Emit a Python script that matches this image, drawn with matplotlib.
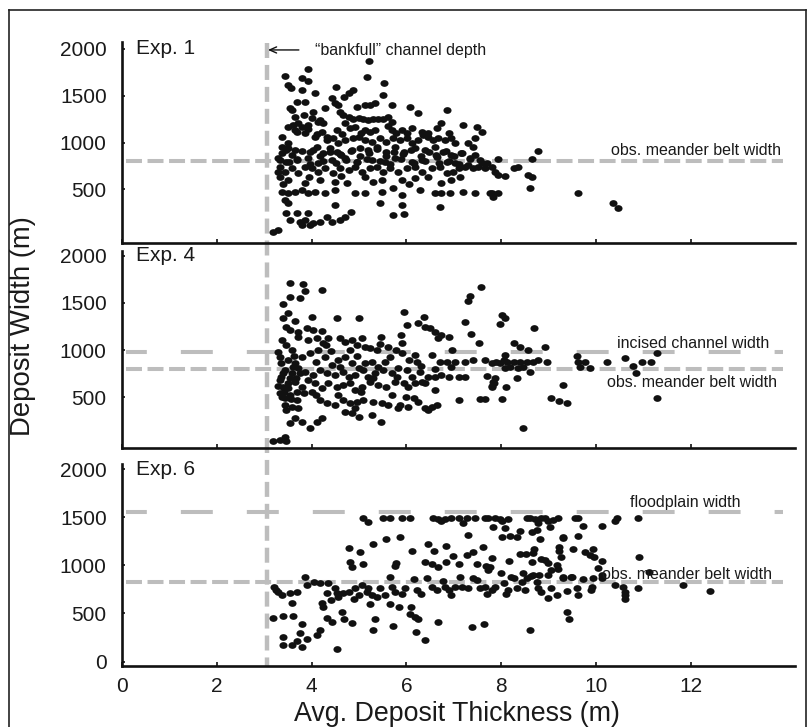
import matplotlib
matplotlib.use("Agg")
import matplotlib.pyplot as plt
import numpy as np
from matplotlib.path import Path
from matplotlib.transforms import Affine2D, blended_transform_factory
from matplotlib.lines import Line2D

plt.rcParams['font.family'] = ['Liberation Sans', 'DejaVu Sans']
plt.rcParams['lines.scale_dashes'] = False

# ---------------- data: (avg. deposit thickness m, deposit width m) ----------------
exp1_points = [
    (5.22, 1874), (5.16, 1703), (3.43, 1713), (3.79, 1692), (3.92, 1660), (3.93, 1781),
    (3.51, 1614), (3.57, 1578), (4.52, 1596), (5.53, 1639), (3.79, 1561), (4.07, 1525),
    (4.88, 1561), (4.78, 1525), (4.69, 1489), (5.51, 1507), (4.42, 1472), (4.49, 1418),
    (4.56, 1401), (3.69, 1436), (3.86, 1436), (3.58, 1347), (3.55, 1365), (4.28, 1365),
    (4.04, 1329), (4.95, 1383), (5.13, 1401), (5.23, 1401), (5.34, 1418), (5.69, 1401),
    (6.08, 1383), (6.25, 1319), (6.85, 1347),
    (4.60, 1329), (4.67, 1294), (4.78, 1269), (4.88, 1248), (4.99, 1258), (5.09, 1248),
    (5.20, 1241), (5.30, 1248), (5.41, 1255), (5.51, 1248), (5.62, 1269), (5.69, 1223),
    (3.65, 1276), (3.83, 1294), (4.00, 1258), (4.18, 1241),
    (3.61, 1187), (3.79, 1169), (3.93, 1187), (4.14, 1223), (4.25, 1205),
    (4.70, 1205), (4.81, 1152),
    (6.11, 1152), (6.64, 1152), (6.74, 1205), (7.20, 1187), (7.48, 1169), (7.59, 1116),
    (3.37, 1063), (3.51, 992), (3.47, 920), (3.69, 1116), (3.86, 1098), (4.07, 1063), (4.21, 1116),
    (5.13, 1134), (5.34, 1134), (5.69, 1134), (5.79, 1098),
    (3.51, 1169), (3.64, 1134), (3.72, 1205), (3.93, 1141), (4.11, 1091), (4.32, 1063),
    (4.53, 1134), (4.65, 1091), (4.92, 1162), (5.04, 1105), (5.23, 1116), (5.61, 1177),
    (5.90, 1134), (6.01, 1098), (6.32, 1116), (6.46, 1098), (6.89, 1098), (7.31, 992),
    (4.32, 1027), (4.46, 1045), (4.56, 992), (4.70, 1027), (4.88, 1045), (4.99, 1063),
    (5.13, 1027), (5.27, 1009), (5.44, 1045), (5.58, 1009), (5.72, 1045), (5.86, 1027),
    (6.01, 1045), (6.11, 992), (6.25, 1027), (6.36, 1081), (6.46, 1063), (6.57, 1027),
    (6.67, 1045), (6.81, 1027), (6.95, 1045), (7.03, 992), (7.45, 1045), (7.41, 956),
    (3.37, 956), (3.51, 938), (3.65, 920), (3.97, 903), (4.11, 956), (4.25, 885),
    (4.39, 938), (4.53, 903), (4.63, 867), (4.85, 920), (5.02, 938), (5.20, 920),
    (5.37, 956), (5.58, 903), (5.76, 956), (5.94, 903), (6.18, 938), (6.39, 920),
    (6.60, 956), (6.78, 903), (6.95, 867), (7.17, 885), (7.34, 832), (7.45, 867),
    (3.37, 885), (3.58, 870), (3.79, 905), (4.02, 918), (4.18, 862), (4.39, 900),
    (4.60, 878), (4.83, 915), (5.02, 852), (5.21, 893), (5.38, 930), (5.56, 862),
    (5.74, 898), (5.93, 873), (6.09, 921), (6.30, 858), (6.48, 902), (6.62, 871),
    (6.83, 915), (7.00, 862), (7.16, 884), (7.35, 830), (7.55, 812), (7.70, 780),
    (3.30, 832), (3.47, 796), (3.69, 814), (3.93, 832), (4.14, 778), (4.42, 814),
    (4.70, 832), (4.95, 796), (5.27, 814), (5.55, 796), (5.76, 832), (6.11, 796),
    (6.32, 814), (6.64, 849), (6.85, 796), (7.03, 778), (7.31, 760), (7.59, 778),
    (3.33, 812), (3.52, 790), (3.70, 826), (3.97, 775), (4.25, 808), (4.52, 780),
    (4.73, 818), (4.95, 792), (5.17, 822), (5.45, 800), (5.66, 770), (5.88, 820),
    (6.15, 785), (6.40, 808), (6.69, 778), (6.90, 800), (7.12, 770),
    (3.33, 743), (3.30, 689), (3.44, 689), (3.58, 725), (3.72, 672), (3.86, 743),
    (4.00, 725), (4.14, 689), (4.28, 725), (4.46, 672), (4.60, 725), (4.78, 707),
    (4.92, 743), (5.06, 689), (5.23, 725), (5.37, 743), (5.51, 689), (5.65, 725),
    (5.83, 689), (6.01, 725), (6.18, 743), (6.32, 689), (6.53, 725), (6.71, 743),
    (6.85, 672), (6.99, 689), (7.10, 725), (7.24, 743), (7.41, 725), (7.52, 743),
    (7.66, 725), (7.80, 743),
    (3.33, 636), (3.51, 601), (3.86, 565), (4.18, 601), (4.49, 583), (4.74, 565),
    (5.13, 636), (5.48, 601), (5.90, 601), (6.18, 618), (6.46, 636), (6.74, 565), (7.13, 636),
    (3.40, 560), (3.95, 630), (4.62, 640), (5.30, 575), (6.05, 560), (6.95, 600),
    (3.37, 476), (3.51, 458), (3.65, 476), (3.79, 494), (3.93, 458), (4.07, 476),
    (4.28, 458), (4.49, 494), (4.92, 458), (5.13, 458), (5.48, 476), (5.72, 512),
    (5.90, 441), (6.29, 494), (6.60, 458), (6.74, 458), (6.92, 465), (7.20, 476),
    (7.45, 458), (7.76, 458),
    (3.44, 387), (3.51, 352), (4.49, 334), (5.44, 352), (5.90, 334), (6.71, 316),
    (3.47, 245), (3.69, 245), (3.93, 245), (4.32, 209), (4.70, 209), (4.84, 263),
    (5.72, 227), (5.94, 238),
    (3.54, 174), (3.76, 156), (3.86, 174), (4.04, 138), (4.18, 156), (4.42, 156),
    (4.60, 174), (3.79, 120), (3.97, 120), (3.19, 49), (3.30, 67),
    (7.94, 821), (8.78, 910), (8.66, 821), (8.26, 725), (8.36, 743), (7.87, 689),
    (7.94, 654), (8.08, 643), (8.57, 654), (8.64, 629), (8.61, 512), (7.80, 458),
    (7.83, 423), (7.94, 458), (9.63, 458), (10.35, 352), (10.46, 305),
]

exp4_points = [
    (3.54, 1706), (3.81, 1696), (3.86, 1629), (3.76, 1548), (3.54, 1565), (4.21, 1636),
    (3.40, 1488), (7.57, 1664), (7.34, 1572), (7.31, 1523),
    (3.51, 1389), (3.40, 1343), (3.65, 1311), (3.47, 1248), (3.54, 1213), (3.72, 1195),
    (4.00, 1354), (3.90, 1230), (4.04, 1213), (4.21, 1205), (4.53, 1336), (5.00, 1343),
    (5.95, 1407), (6.38, 1354), (6.24, 1283), (6.39, 1248), (6.50, 1230), (6.60, 1195),
    (6.72, 1160), (6.66, 1124), (6.89, 1142), (7.24, 1301), (7.36, 1167), (7.53, 1079),
    (6.96, 1001), (6.53, 948), (6.01, 1265), (5.88, 1160), (5.90, 1079), (5.46, 1135),
    (3.37, 1107), (3.47, 1054), (3.58, 1001), (3.72, 1142), (3.93, 1107), (4.11, 1124),
    (4.25, 1071), (4.35, 1124), (4.60, 1124), (4.70, 1089), (4.85, 1107), (4.95, 1054),
    (5.06, 1124), (5.13, 1036), (5.23, 1019), (5.37, 1001), (5.62, 1029), (5.79, 1001),
    (5.90, 966), (5.65, 930), (6.18, 948), (6.22, 877), (6.71, 877), (6.85, 877),
    (7.03, 877), (7.24, 877), (7.41, 895), (7.66, 895), (7.80, 860), (7.69, 726),
    (7.85, 655), (7.80, 620),
    (3.33, 930), (3.51, 895), (3.65, 860), (3.79, 930), (3.97, 966), (4.14, 1001),
    (4.28, 930), (4.42, 842), (4.56, 895), (4.70, 930), (4.85, 860), (4.99, 807),
    (5.13, 860), (5.27, 877), (5.41, 825), (3.44, 789), (3.58, 754), (3.72, 807),
    (3.86, 772), (4.04, 736), (4.18, 789), (4.32, 754), (4.49, 736), (4.67, 772),
    (4.78, 719), (4.92, 736), (5.09, 789), (5.20, 719), (5.34, 754), (5.51, 789),
    (5.69, 754), (5.83, 807), (6.01, 789), (6.11, 719), (6.29, 772), (6.46, 719),
    (6.60, 719), (6.74, 736), (6.89, 719), (7.10, 719), (7.24, 719),
    (3.30, 980), (3.36, 860), (3.40, 760), (3.35, 720), (3.42, 560), (3.50, 600),
    (3.55, 700), (3.60, 820), (3.62, 940), (3.68, 700), (3.70, 560), (3.75, 760),
    (3.56, 480), (3.30, 620), (3.38, 500), (4.10, 870), (4.40, 990), (4.60, 820),
    (4.95, 940), (5.30, 700), (5.55, 870), (5.80, 720), (6.05, 900), (6.30, 830),
    (6.60, 800), (6.95, 820), (5.05, 560), (4.55, 520), (4.10, 520), (5.70, 520),
    (6.00, 500), (4.30, 1050), (4.80, 1000), (5.45, 1060),
    (3.33, 683), (3.40, 613), (3.51, 648), (3.65, 666), (3.79, 613), (3.93, 683),
    (4.07, 648), (4.21, 595), (4.35, 648), (4.53, 613), (4.67, 631), (4.81, 648),
    (4.92, 578), (5.06, 613), (5.23, 666), (5.41, 631), (5.58, 613), (5.76, 666),
    (5.94, 648), (6.04, 613), (6.18, 648), (6.32, 666), (6.39, 648),
    (3.33, 542), (3.44, 490), (3.54, 525), (3.69, 472), (3.83, 542), (4.00, 560),
    (4.18, 472), (4.32, 437), (4.49, 419), (4.67, 472), (4.81, 437), (4.95, 454),
    (5.09, 472), (5.30, 454), (5.48, 437), (5.62, 419), (3.44, 419), (3.47, 366),
    (3.58, 401), (3.72, 384), (4.70, 348), (4.85, 331), (4.99, 296), (5.27, 313),
    (5.46, 243), (4.92, 384), (6.04, 401), (6.15, 490), (6.25, 454), (6.39, 384),
    (6.53, 401), (6.64, 419), (6.46, 366), (5.83, 384), (5.86, 419), (7.10, 472),
    (7.66, 479), (7.55, 479), (6.60, 578),
    (3.54, 225), (3.79, 243), (3.97, 172), (4.11, 243), (4.21, 278), (3.65, 278),
    (3.19, 38), (3.33, 49), (3.47, 42), (3.44, 77),
    (8.01, 1371), (8.08, 1336), (7.97, 1276), (8.70, 1230), (8.26, 1079), (8.40, 1036),
    (8.57, 1001), (8.92, 1036), (8.08, 948), (8.05, 895), (7.90, 877), (7.97, 860),
    (8.12, 877), (8.26, 877), (8.40, 877), (8.54, 877), (8.68, 877), (8.78, 895),
    (8.96, 877), (9.59, 937), (9.63, 877), (9.77, 877), (10.24, 877), (10.61, 913),
    (10.96, 877), (11.17, 870), (11.29, 973), (10.79, 832), (10.84, 761), (8.08, 807),
    (8.19, 817), (8.36, 807), (8.47, 825), (8.61, 772), (9.66, 817), (9.87, 814),
    (8.33, 701), (7.87, 701), (7.83, 666), (7.80, 613), (8.10, 606), (9.31, 634),
    (8.01, 479), (9.06, 490), (9.21, 465), (9.38, 437), (11.29, 490), (8.45, 172),
]

exp6_points = [
    (5.09, 1495), (5.20, 1454), (5.51, 1495), (5.65, 1495), (5.90, 1495), (6.08, 1495),
    (6.57, 1495), (6.66, 1481), (6.74, 1464), (6.81, 1478), (6.95, 1495), (7.10, 1495),
    (7.20, 1436), (7.27, 1495), (7.45, 1495), (7.66, 1495), (7.73, 1495), (7.87, 1495),
    (7.97, 1478), (8.01, 1464), (8.15, 1481), (8.54, 1495), (8.61, 1495), (8.71, 1481),
    (8.78, 1436), (8.85, 1495), (8.92, 1495), (8.99, 1461), (9.10, 1471), (9.20, 1495),
    (9.56, 1495), (9.63, 1495), (10.40, 1461), (10.44, 1488), (10.89, 1495),
    (7.31, 1315), (7.83, 1402), (8.01, 1291), (8.07, 1385), (8.19, 1305), (8.33, 1291),
    (8.40, 1360), (8.64, 1350), (8.75, 1367), (8.82, 1274), (9.03, 1402), (9.31, 1291),
    (9.63, 1305), (9.73, 1409), (10.12, 1412),
    (4.78, 1177), (5.02, 1135), (5.30, 1222), (5.58, 1274), (5.86, 1291), (6.11, 1149),
    (6.45, 1218), (6.59, 1149), (6.83, 1205), (6.98, 1097), (7.27, 1108), (7.41, 1142),
    (7.62, 1187), (7.81, 1080), (8.16, 1049), (8.40, 1115), (8.52, 1115), (8.70, 1166),
    (8.68, 1132), (8.64, 1031), (8.84, 1063), (9.22, 1187), (9.22, 1153), (9.26, 1083),
    (9.52, 1170), (9.77, 1135), (9.87, 1108), (9.94, 1166), (9.96, 1090), (10.12, 1049),
    (10.91, 1090), (9.31, 1281),
    (4.81, 1038), (4.85, 980), (5.09, 1011), (5.79, 1021), (5.76, 993), (6.39, 1038),
    (6.53, 1014), (6.67, 980), (6.83, 1038), (7.10, 1011), (7.48, 1011), (7.67, 993),
    (7.76, 980), (7.73, 952), (7.99, 924), (8.21, 876), (8.45, 917), (8.63, 890),
    (8.80, 900), (8.92, 1056), (8.99, 1021), (9.06, 952), (9.17, 1004), (9.20, 959),
    (8.99, 900), (9.31, 883), (9.49, 876), (10.05, 969), (10.13, 865), (11.12, 935),
    (9.94, 865),
    (3.21, 772), (3.24, 744), (3.30, 727), (3.37, 692), (3.54, 710), (3.69, 727),
    (3.86, 876), (3.90, 796), (4.06, 831), (4.18, 820), (4.34, 813), (4.32, 710),
    (4.49, 762), (4.53, 710), (4.56, 675), (4.67, 710), (4.78, 727), (4.92, 762),
    (4.99, 692), (5.06, 796), (5.16, 727), (5.27, 692), (5.37, 675), (5.44, 762),
    (5.55, 692), (5.65, 883), (5.69, 779), (5.76, 727), (5.97, 762), (6.15, 855),
    (6.22, 744), (6.43, 865), (6.53, 779), (6.64, 744), (6.78, 841), (6.81, 779),
    (6.89, 744), (7.03, 779), (7.13, 876), (7.17, 779), (7.31, 762), (7.41, 865),
    (7.48, 848), (7.55, 762), (7.66, 779), (7.80, 744), (7.87, 779), (8.05, 813),
    (8.15, 744), (8.26, 865), (8.33, 762), (8.43, 831), (8.54, 865), (8.68, 900),
    (8.75, 831), (8.78, 762), (8.84, 727), (8.99, 658), (9.17, 692), (9.31, 865),
    (9.38, 737), (9.47, 876), (9.63, 692), (9.73, 855), (9.89, 744), (9.91, 779),
    (10.12, 900), (10.40, 796), (10.58, 779), (10.61, 727), (10.89, 762), (11.84, 796),
    (12.40, 737),
    (4.40, 640), (4.90, 655), (5.20, 760), (5.90, 700), (6.30, 705), (6.95, 690),
    (7.70, 705), (8.10, 700), (8.50, 740), (9.05, 765), (9.60, 760),
    (3.19, 450), (3.40, 474), (3.59, 606), (3.60, 474), (3.79, 388), (3.76, 294),
    (3.40, 260), (3.40, 173), (3.58, 173), (3.79, 156), (3.69, 218), (3.90, 235),
    (4.11, 277), (4.18, 329), (4.21, 606), (4.25, 571), (4.32, 450), (4.42, 415),
    (4.53, 132), (4.65, 519), (4.69, 440), (4.85, 398), (5.23, 599), (5.30, 329),
    (5.34, 440), (5.65, 599), (5.72, 370), (5.85, 564), (6.10, 571), (6.08, 495),
    (6.18, 467), (6.20, 312), (6.25, 440), (6.39, 225), (6.66, 415), (7.38, 357),
    (7.64, 391), (8.61, 329), (9.38, 519), (9.42, 440), (10.61, 647), (10.61, 692),
]

panel_names = ["Exp. 1", "Exp. 4", "Exp. 6"]
bankfull_depth = 3.05
meander_belt = [800, 800, 828]
incised_width = 977
floodplain_width = 1551

# ---------------- figure ----------------
W, H = 809, 727
fig = plt.figure(figsize=(W / 100, H / 100), dpi=100)

def px_box(top, bottom, left=122, right=795):
    return [left / W, 1 - bottom / H, (right - left) / W, (bottom - top) / H]

boxes = [px_box(41.7, 242.7), px_box(250.7, 448.3), px_box(464.0, 665.7)]
ylims = [(-68, 2076), (-39, 2052), (-42, 2052)]
xmax = (795 - 122) / 47.4

dot = Path.unit_circle().transformed(Affine2D().scale(1.2, 1.0))
gray = '#bdbdbd'
ink = '#1a1a1a'
axes = []
for i, (box, yl) in enumerate(zip(boxes, ylims)):
    ax = fig.add_axes(box)
    ax.set_xlim(0, xmax)
    ax.set_ylim(*yl)
    for s in ('top', 'right'):
        ax.spines[s].set_visible(False)
    for s in ('left', 'bottom'):
        ax.spines[s].set_linewidth(1.9)
        ax.spines[s].set_color('#111111')
    ax.set_xticks([0, 2, 4, 6, 8, 10, 12])
    if i < 2:
        ax.set_yticks([500, 1000, 1500, 2000])
        ax.tick_params(axis='x', labelbottom=False)
    else:
        ax.set_yticks([0, 500, 1000, 1500, 2000])
    ax.tick_params(axis='both', direction='in', length=3, width=1.2, color='#111111',
                   labelsize=15, labelcolor=ink)
    ax.tick_params(axis='y', pad=11, length=2)
    ax.tick_params(axis='x', pad=8)
    ax.patch.set_visible(False)
    ax.text(0.3, 2000, panel_names[i], fontsize=15, va='center', ha='left', color=ink)
    axes.append(ax)

ax1, ax2, ax3 = axes

# reference lines
obs_style = dict(color=gray, lw=2.9, linestyle=(0, (11.5, 4.0)), zorder=1)
long_style = dict(color=gray, lw=2.9, linestyle=(8, (23.0, 24.5)), zorder=1)
for ax, yb in zip(axes, meander_belt):
    ax.plot([0.08, 13.95], [yb, yb], **obs_style)
ax2.plot([0.08, 13.95], [incised_width] * 2, **long_style)
ax3.plot([0.08, 13.95], [floodplain_width] * 2, **long_style)

# scatter of deposits
for ax, pts in zip(axes, [exp1_points, exp4_points, exp6_points]):
    xs = [p[0] for p in pts]
    ys = [p[1] for p in pts]
    ax.scatter(xs, ys, s=34, marker=dot, color='#111111', linewidths=0, zorder=3)

# labels on the reference lines
lab = dict(fontsize=11.5, color=ink, zorder=4)
ax1.text(13.9, 913, 'obs. meander belt width', ha='right', va='center', **lab)
ax2.text(13.65, 1072, 'incised channel width', ha='right', va='center', **lab)
ax2.text(13.82, 655, 'obs. meander belt width', ha='right', va='center', **lab)
ax3.text(11.89, 1651, 'floodplain width', ha='center', va='center', **lab)
ax3.text(13.72, 900, 'obs. meander belt width', ha='right', va='center', **lab)

# bankfull depth: one dashed line through all three panels
tr = blended_transform_factory(ax3.transData, fig.transFigure)
fig.add_artist(Line2D([bankfull_depth, bankfull_depth], [1 - 43 / H, 1 - 665.7 / H],
                      transform=tr, color=gray, lw=3.2, linestyle=(0, (10.8, 5.0)), zorder=0))
ax1.annotate('', xy=(3.02, 1988), xytext=(3.79, 1988),
             arrowprops=dict(arrowstyle='->,head_length=0.5,head_width=0.22', lw=1.0, color='#111111'),
             annotation_clip=False)
ax1.text(4.07, 1980, '\u201cbankfull\u201d channel depth', ha='left', va='center', **lab)

# axis titles
fig.text(457 / W, 1 - 714 / H, 'Avg. Deposit Thickness (m)', ha='center', va='center',
         fontsize=19.3, color=ink)
fig.text(23 / W, 1 - 326 / H, 'Deposit Width (m)', ha='center', va='center', rotation=90,
         fontsize=19.8, color=ink)

# outer frame
for xs_, ys_ in [([9, 9], [10, 740]), ([9, 806], [10, 10]), ([806, 806], [10, 740])]:
    fig.add_artist(Line2D([x / W for x in xs_], [1 - y / H for y in ys_],
                          transform=fig.transFigure, color='#222222', lw=1.2))

fig.savefig('out.png', dpi=100)
